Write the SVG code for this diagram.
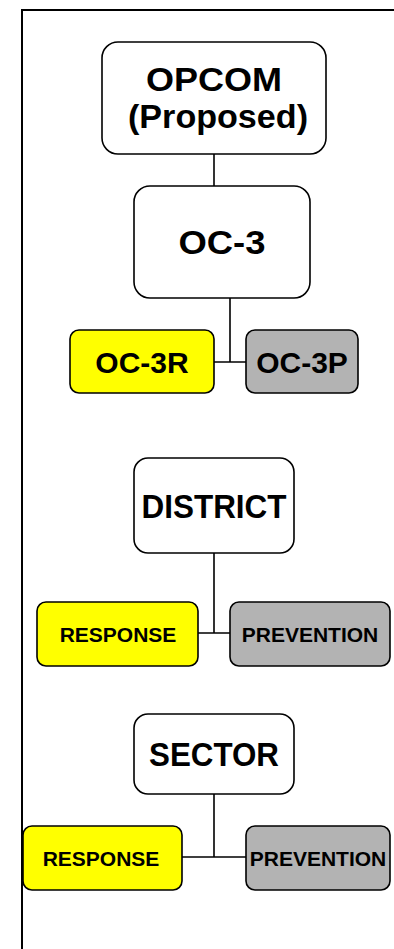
<svg xmlns="http://www.w3.org/2000/svg" width="394" height="949" viewBox="0 0 394 949">
<style>
  .box { stroke: #000; stroke-width: 1.6; }
  .w { fill: #fff; }
  .y { fill: #ffff00; }
  .g { fill: #b3b3b3; }
  .t { font-family: "Liberation Sans", Arial, sans-serif; font-weight: bold; fill: #000; text-anchor: middle; }
  .big { font-size: 33px; }
  .mid { font-size: 30px; }
  .sm { font-size: 21px; }
  .ln { stroke: #000; stroke-width: 1.6; fill: none; }
</style>
<rect x="0" y="0" width="394" height="949" fill="#fff"/>
<path d="M22,949 V10 H394" fill="none" stroke="#000" stroke-width="2"/>
<g id="connectors">
  <path class="ln" d="M214,154 V186"/>
  <path class="ln" d="M230,298 V362 M214,362 H247"/>
  <path class="ln" d="M214,553 V633 M198,633 H230"/>
  <path class="ln" d="M214,794 V857 M182,857 H246"/>
</g>
<g id="opcom">
  <rect class="box w" x="102" y="42" width="224" height="112" rx="16"/>
  <text class="t big" x="214" y="91" textLength="136" lengthAdjust="spacingAndGlyphs">OPCOM</text>
  <text class="t big" x="218" y="128" textLength="180" lengthAdjust="spacingAndGlyphs">(Proposed)</text>
</g>
<g id="oc3">
  <rect class="box w" x="134" y="186" width="176" height="112" rx="16"/>
  <text class="t big" x="222" y="254" textLength="87" lengthAdjust="spacingAndGlyphs">OC-3</text>
</g>
<g id="oc3r">
  <rect class="box y" x="70" y="330" width="144" height="63" rx="9"/>
  <text class="t mid" x="142" y="373">OC-3R</text>
</g>
<g id="oc3p">
  <rect class="box g" x="246" y="330" width="112" height="63" rx="9"/>
  <text class="t mid" x="302" y="373">OC-3P</text>
</g>
<g id="district">
  <rect class="box w" x="134" y="458" width="160" height="95" rx="14"/>
  <text class="t big" x="214" y="518" textLength="145" lengthAdjust="spacingAndGlyphs">DISTRICT</text>
</g>
<g id="district-response">
  <rect class="box y" x="37" y="602" width="161" height="64" rx="9"/>
  <text class="t sm" x="118" y="642">RESPONSE</text>
</g>
<g id="district-prevention">
  <rect class="box g" x="230" y="602" width="160" height="64" rx="9"/>
  <text class="t sm" x="310" y="642">PREVENTION</text>
</g>
<g id="sector">
  <rect class="box w" x="134" y="714" width="160" height="80" rx="14"/>
  <text class="t big" x="214" y="766" textLength="130" lengthAdjust="spacingAndGlyphs">SECTOR</text>
</g>
<g id="sector-response">
  <rect class="box y" x="23" y="826" width="159" height="64" rx="9"/>
  <text class="t sm" x="101" y="866">RESPONSE</text>
</g>
<g id="sector-prevention">
  <rect class="box g" x="246" y="826" width="144" height="64" rx="9"/>
  <text class="t sm" x="318" y="866">PREVENTION</text>
</g>
</svg>
